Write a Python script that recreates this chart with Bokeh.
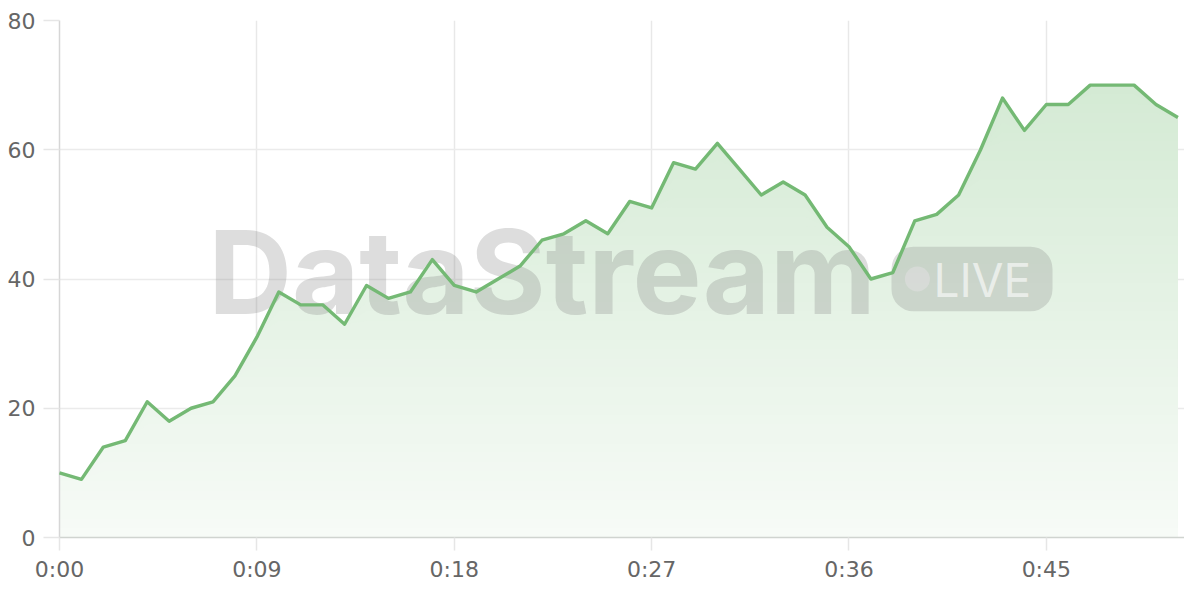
import numpy as np
from bokeh.plotting import figure
from bokeh.models import Range1d, FixedTicker, Label, BoxAnnotation
from bokeh.embed import file_html
from bokeh.resources import INLINE

# ---- data ----
seconds = list(range(52))
values = [10, 9, 14, 15, 21, 18, 20, 21, 25, 31,
          38, 36, 36, 33, 39, 37, 38, 43, 39, 38,
          40, 42, 46, 47, 49, 47, 52, 51, 58, 57,
          61, 57, 53, 55, 53, 48, 45, 40, 41, 49,
          50, 53, 60, 68, 63, 67, 67, 70, 70, 70,
          67, 65]
x_ticks = [0, 9, 18, 27, 36, 45]
x_tick_labels = ["0:00", "0:09", "0:18", "0:27", "0:36", "0:45"]
y_ticks = [0, 20, 40, 60, 80]

FONT = "DejaVu Sans"
WM_FONT = "Inter"
LINE_COLOR = "#74b974"

p = figure(width=1184, height=584, output_backend="svg", toolbar_location=None,
           x_range=Range1d(0, 51.3), y_range=Range1d(0, 80),
           min_border_left=59, min_border_right=0, min_border_top=20, min_border_bottom=44)
p.outline_line_color = None
p.background_fill_color = "white"

# gradient area: stacked layers from top colour to bottom colour
vals = np.array(values, dtype=float)
top_rgb = np.array([212, 234, 212])
bot_rgb = np.array([247, 251, 247])
vmax = vals.max()
N = 48
for k in range(N, 0, -1):
    hi = vmax * k / N
    t = (hi - vmax / (2 * N)) / vmax
    rgb = bot_rgb + (top_rgb - bot_rgb) * t
    col = "#%02x%02x%02x" % tuple(int(round(c)) for c in rgb)
    p.varea(x=seconds, y1=np.zeros_like(vals), y2=np.minimum(vals, hi), fill_color=col)

# watermark
p.add_layout(Label(x=6.78, y=41.1, text="DataStream", text_font=WM_FONT, text_font_style="bold",
                   text_font_size="116px", text_color="#808080", text_alpha=0.27,
                   text_baseline="alphabetic", text_align="left", level="annotation"))
p.add_layout(BoxAnnotation(left=37.94, right=45.28, bottom=35.0, top=45.0,
                           fill_color="#808080", fill_alpha=0.25, line_alpha=0,
                           border_radius=22, level="annotation"))
p.scatter(x=[39.12], y=[40.0], size=25, marker="circle", fill_color="white",
          fill_alpha=0.6, line_alpha=0, level="annotation")
p.add_layout(Label(x=39.85, y=39.9, text="LIVE", text_font=WM_FONT, text_font_size="46px",
                   text_color="white", text_alpha=0.6, text_baseline="alphabetic",
                   text_align="left", level="annotation"))

# line on top
line = p.line(x=seconds, y=values, line_color=LINE_COLOR, line_width=3.4, line_join="round")
line.level = "overlay"

# axes
p.xaxis.ticker = FixedTicker(ticks=x_ticks)
p.xaxis.major_label_overrides = {t: l for t, l in zip(x_ticks, x_tick_labels)}
p.yaxis.ticker = FixedTicker(ticks=y_ticks)
for ax in (p.xaxis, p.yaxis):
    ax.major_label_text_font = FONT
    ax.major_label_text_font_size = "22px"
    ax.major_label_text_color = "#666666"
    ax.minor_tick_line_color = None
    ax.major_tick_in = 0
    ax.major_tick_line_color = "#e6e6e6"
    ax.major_tick_line_width = 1.5
p.xaxis.major_tick_out = 13
p.yaxis.major_tick_out = 16
p.xaxis.major_label_standoff = 6
p.yaxis.major_label_standoff = 8
p.xaxis.axis_line_color = "#d0d4d0"
p.xaxis.axis_line_width = 1.5
p.yaxis.axis_line_color = "#d6d6d6"
p.yaxis.axis_line_width = 1.5

p.xgrid.grid_line_color = "#e8e8e8"
p.ygrid.grid_line_color = "#ebebeb"
p.xgrid.grid_line_width = 1.5
p.ygrid.grid_line_width = 1.5

open("out.html", "w").write(file_html(p, INLINE))
